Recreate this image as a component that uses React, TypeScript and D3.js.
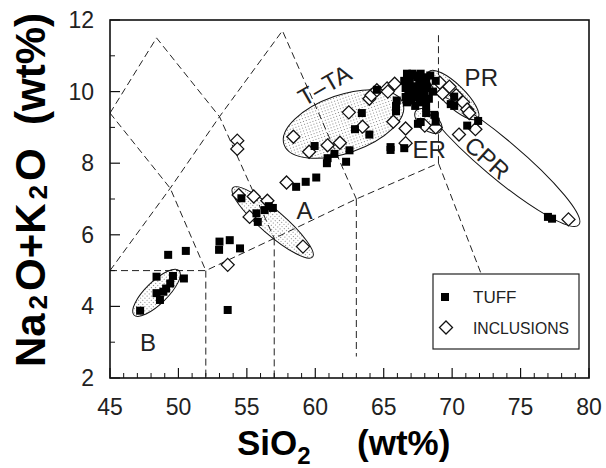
import React from 'react';
import * as d3 from 'd3';

// SiO2 vs Na2O+K2O (wt%)
const tuff: [number, number][] = [
  [48.4, 4.83], [49.6, 4.85], [50.4, 4.78], [49.4, 4.64], [49.1, 4.5], [48.4, 4.37], [48.9, 4.41],
  [48.65, 4.18], [47.2, 3.88], [49.25, 5.44], [50.54, 5.55],
  [53.0, 5.81], [53.75, 5.85], [52.97, 5.58], [54.5, 5.62], [53.6, 3.9],
  [54.6, 7.02], [55.7, 6.6], [55.8, 6.36], [56.3, 6.69], [56.9, 6.75], [56.6, 6.8],
  [58.6, 7.34], [59.3, 7.48], [60.07, 7.6],
  [59.95, 8.48], [60.85, 8.0], [60.9, 8.14], [61.4, 8.26], [62.25, 8.04], [62.5, 8.36], [62.9, 8.95],
  [63.4, 9.4], [63.95, 8.8], [64.5, 10.05], [65.9, 9.6], [65.9, 9.45], [65.95, 9.75],
  [65.5, 8.37], [65.5, 8.45], [66.5, 8.42],
  [66.5, 10.3], [66.7, 10.5], [66.9, 10.4], [67.1, 10.5], [67.3, 10.45], [67.5, 10.4], [67.7, 10.5],
  [67.9, 10.4], [68.1, 10.3], [66.6, 10.1], [66.8, 9.9], [67.0, 10.1], [67.2, 9.95], [67.4, 10.15],
  [67.6, 9.9], [67.8, 10.1], [68.0, 9.95], [68.2, 10.1], [66.7, 9.7], [67.0, 9.75], [67.3, 9.6],
  [67.6, 9.7], [67.9, 9.75], [68.3, 9.8], [68.6, 10.0], [68.8, 10.3], [68.4, 10.45],
  [66.6, 9.85], [67.1, 9.85], [67.5, 10.05], [68.1, 9.6], [66.9, 10.25], [67.6, 10.25],
  [68.1, 9.4], [68.7, 9.35], [67.7, 9.15], [68.8, 9.16], [67.5, 9.1],
  [70.15, 9.86], [70.15, 9.6], [69.9, 9.65], [71.1, 9.05], [71.9, 9.18],
  [77.0, 6.5], [77.3, 6.45]
];

const inclusions: [number, number][] = [
  [53.6, 5.16], [54.3, 8.63], [54.3, 8.4], [54.4, 7.11], [55.5, 7.07], [56.5, 6.95], [55.2, 6.5],
  [59.1, 5.67], [57.9, 7.46], [58.4, 8.74], [59.55, 8.32], [60.9, 8.5], [61.8, 8.57], [62.45, 9.42],
  [63.45, 9.02], [63.95, 9.8], [64.1, 9.9], [64.5, 10.04], [65.25, 10.09], [65.8, 10.22], [65.3, 10.0],
  [65.7, 9.16], [66.6, 8.97], [66.6, 8.56], [68.0, 9.05], [68.8, 9.0], [69.1, 10.25], [69.8, 10.14],
  [69.3, 9.95], [70.3, 9.9], [70.8, 9.7], [71.1, 9.5], [71.25, 9.4], [71.7, 8.95], [70.5, 8.8],
  [78.5, 6.43]
];

const xTicks = [45, 50, 55, 60, 65, 70, 75, 80];
const yTicks = [2, 4, 6, 8, 10, 12];

// TAS field boundaries
const boundaries: [number, number][][] = [
  [[45, 5], [52, 5], [57, 5.9], [63, 7], [69, 8]],
  [[52, 5], [52, 2]],
  [[57, 5.9], [57, 2]],
  [[63, 7], [63, 2.6]],
  [[69, 8], [69, 11.6]],
  [[69, 8], [72.1, 4.93]],
  [[45, 5], [49.4, 7.3], [53, 9.3], [57.6, 11.7], [63, 7]],
  [[45, 9.4], [49.4, 7.3], [52, 5]],
  [[45, 9.4], [48.4, 11.5], [53, 9.3], [57, 5.9]]
];

// fields: ends of long axis
const fields = [
  { name: 'B', from: [46.75, 3.76], to: [50.05, 5.0], dotted: true },
  { name: 'A', from: [53.97, 7.31], to: [59.8, 5.38], dotted: true },
  { name: 'T-TA', from: [57.72, 8.52], to: [66.41, 9.67], dotted: true },
  { name: 'PR', from: [68.3, 10.56], to: [71.87, 9.25], dotted: true },
  { name: 'ER', from: [67.36, 9.47], to: [69.16, 8.89], dotted: true },
  { name: 'CPR', from: [67.76, 9.98], to: [79.26, 6.28], dotted: false }
];
const fieldWidth: Record<string, number> = { B: 11, A: 12, 'T-TA': 29, PR: 11, ER: 9, CPR: 19 };

const fieldLabels = [
  { text: 'B', at: [47.77, 2.98], angle: 0 },
  { text: 'A', at: [59.22, 6.69], angle: 0 },
  { text: 'T\u2013TA', at: [60.68, 10.18], angle: -30 },
  { text: 'PR', at: [72.13, 10.38], angle: 0 },
  { text: 'ER', at: [68.33, 8.37], angle: 0 },
  { text: 'CPR', at: [72.56, 8.15], angle: 42 }
];

const W = 606;
const H = 468;
const left = 110, right = 589, top = 20, bottom = 378;

export default function App() {
  const x = d3.scaleLinear().domain([45, 80]).range([left, right]);
  const y = d3.scaleLinear().domain([2, 12]).range([bottom, top]);
  const line = d3.line<[number, number]>().x(d => x(d[0])).y(d => y(d[1]));

  const ell = fields.map(f => {
    const x1 = x(f.from[0]), y1 = y(f.from[1]), x2 = x(f.to[0]), y2 = y(f.to[1]);
    const cx = (x1 + x2) / 2, cy = (y1 + y2) / 2;
    const rx = Math.hypot(x2 - x1, y2 - y1) / 2;
    const ang = (Math.atan2(y2 - y1, x2 - x1) * 180) / Math.PI;
    return { ...f, cx, cy, rx, ry: fieldWidth[f.name], ang };
  });

  const xMinor = d3.range(45, 81, 1).filter(v => v % 5 !== 0);
  const yMinor = d3.range(3, 12, 2);
  const font = "'Liberation Sans', Arial, sans-serif";
  const lx = 433, ly = 274;

  return (
    <svg width={W} height={H} style={{ position: 'absolute', left: 0, top: 0, background: '#fff' }}>
      <defs>
        <pattern id="dots" width="3" height="3" patternUnits="userSpaceOnUse">
          <rect width="3" height="3" fill="#fff" />
          <rect width="1" height="1" fill="#888" />
        </pattern>
        <clipPath id="plot">
          <rect x={left} y={top} width={right - left} height={bottom - top} />
        </clipPath>
      </defs>

      <g clipPath="url(#plot)">
        {ell.filter(e => e.dotted).map(e => (
          <ellipse key={'f' + e.name} cx={e.cx} cy={e.cy} rx={e.rx} ry={e.ry}
            transform={`rotate(${e.ang} ${e.cx} ${e.cy})`} fill="url(#dots)" stroke="none" />
        ))}
        {boundaries.map((b, i) => (
          <path key={'b' + i} d={line(b) || ''} fill="none" stroke="#222" strokeWidth={1}
            strokeDasharray="7,4" />
        ))}
        {ell.map(e => (
          <ellipse key={'o' + e.name} cx={e.cx} cy={e.cy} rx={e.rx} ry={e.ry}
            transform={`rotate(${e.ang} ${e.cx} ${e.cy})`} fill="none" stroke="#111" strokeWidth={1} />
        ))}
        {inclusions.map((d, i) => {
          const px = x(d[0]), py = y(d[1]), r = 6.5;
          return (
            <path key={'i' + i} d={`M${px},${py - r}L${px + r},${py}L${px},${py + r}L${px - r},${py}Z`}
              fill="#fff" stroke="#111" strokeWidth={1.3} />
          );
        })}
        {tuff.map((d, i) => (
          <rect key={'t' + i} x={x(d[0]) - 4} y={y(d[1]) - 4} width={8} height={8} fill="#000" />
        ))}
      </g>

      {fieldLabels.map(l => (
        <text key={'l' + l.text} transform={`translate(${x(l.at[0])},${y(l.at[1])}) rotate(${l.angle})`}
          textAnchor="middle" dominantBaseline="central" fontFamily={font} fontSize={24} fill="#222">
          {l.text}
        </text>
      ))}

      {/* frame */}
      <rect x={left} y={top} width={right - left} height={bottom - top} fill="none" stroke="#111" strokeWidth={1.6} />

      {/* ticks */}
      {xTicks.map(t => (
        <g key={'xt' + t}>
          <line x1={x(t)} x2={x(t)} y1={bottom} y2={bottom - 10} stroke="#111" strokeWidth={1.2} />
          <text x={x(t)} y={415} textAnchor="middle" fontFamily={font} fontSize={23} fill="#222">{t}</text>
        </g>
      ))}
      {xMinor.map(t => (
        <line key={'xm' + t} x1={x(t)} x2={x(t)} y1={bottom} y2={bottom - 5} stroke="#111" strokeWidth={1} />
      ))}
      {yTicks.map(t => (
        <g key={'yt' + t}>
          <line x1={left} x2={left + 10} y1={y(t)} y2={y(t)} stroke="#111" strokeWidth={1.2} />
          <text x={94} y={y(t) + 8} textAnchor="end" fontFamily={font} fontSize={23} fill="#222">{t}</text>
        </g>
      ))}
      {yMinor.map(t => (
        <line key={'ym' + t} x1={left} x2={left + 5} y1={y(t)} y2={y(t)} stroke="#111" strokeWidth={1} />
      ))}

      {/* axis titles */}
      <text x={237} y={455} fontFamily={font} fontWeight="bold" fontSize={35} fill="#000">
        SiO<tspan fontSize={24} dy={9}>2</tspan>
      </text>
      <text x={357} y={455} fontFamily={font} fontWeight="bold" fontSize={35} fill="#000">(wt%)</text>
      <text transform="translate(45,190) rotate(-90)" textAnchor="middle" fontFamily={font} fontWeight="bold"
        fontSize={42} fill="#000">
        Na<tspan fontSize={26} dx={4} dy={2}>2</tspan><tspan dx={4} dy={-2}>O+K</tspan>
        <tspan fontSize={26} dx={4} dy={2}>2</tspan><tspan dx={4} dy={-2}>{'O\u00a0\u00a0(wt%)'}</tspan>
      </text>

      {/* legend */}
      <rect x={lx} y={ly} width={146} height={75} fill="#fff" stroke="#222" strokeWidth={1.2} />
      <rect x={lx + 8} y={ly + 19} width={8} height={8} fill="#000" />
      <text x={lx + 40} y={ly + 29} fontFamily={font} fontSize={17} fill="#222">TUFF</text>
      <path d={`M${lx + 13},${ly + 47}L${lx + 19.5},${ly + 53.5}L${lx + 13},${ly + 60}L${lx + 6.5},${ly + 53.5}Z`}
        fill="#fff" stroke="#111" strokeWidth={1.3} />
      <text x={lx + 40} y={ly + 60} fontFamily={font} fontSize={17} fill="#222" textLength={96}
        lengthAdjust="spacingAndGlyphs">INCLUSIONS</text>
    </svg>
  );
}
